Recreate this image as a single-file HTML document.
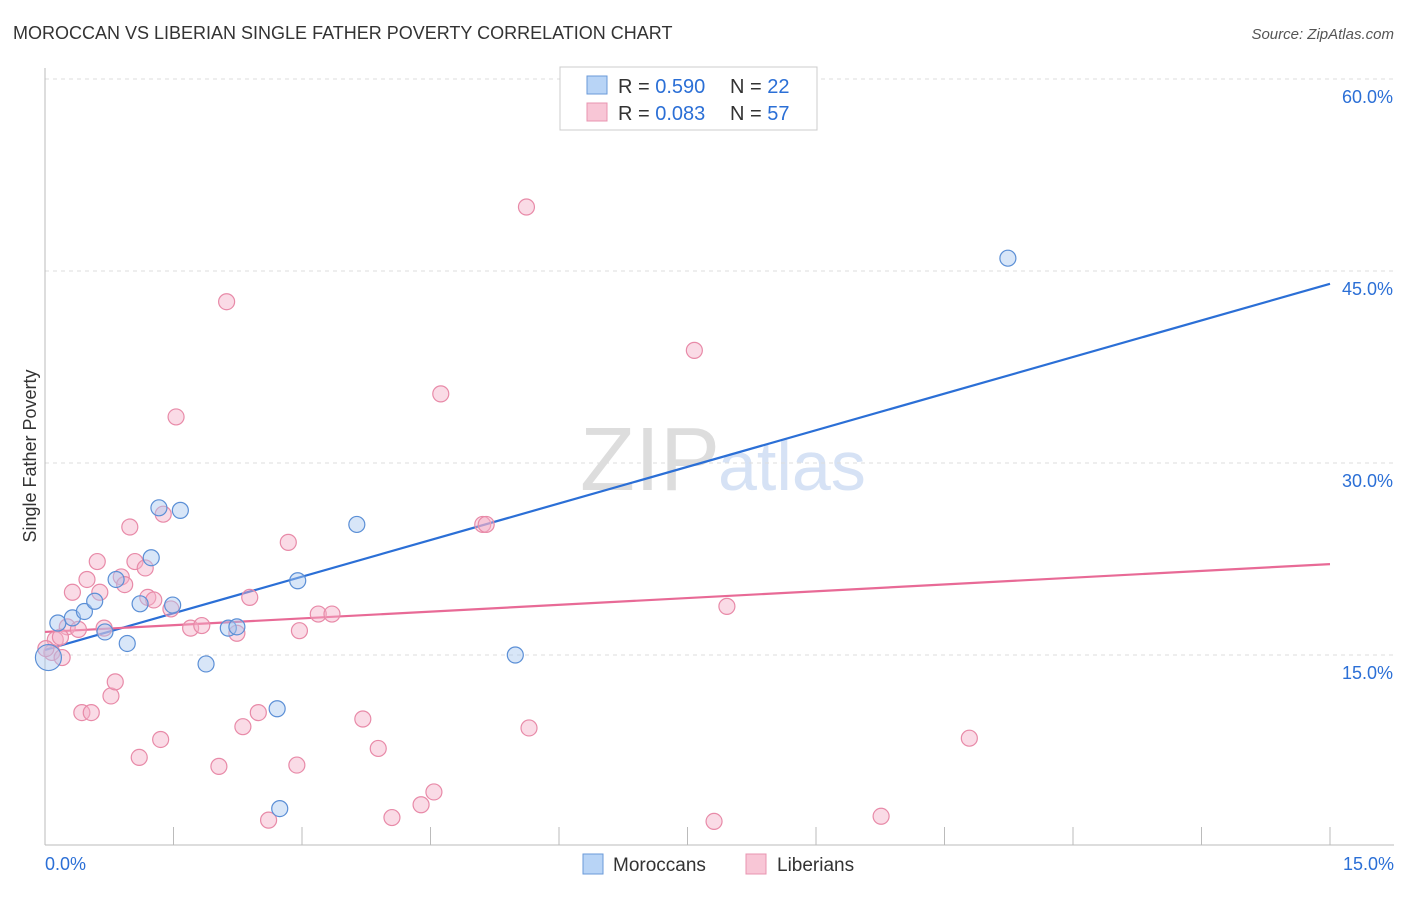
<!DOCTYPE html>
<html><head><meta charset="utf-8"><style>
body{margin:0;background:#fff;font-family:"Liberation Sans",sans-serif;}
svg text{font-family:"Liberation Sans",sans-serif;}
</style></head><body>
<svg id="c" width="1406" height="892">
<text x="13" y="39" font-size="18" fill="#333">MOROCCAN VS LIBERIAN SINGLE FATHER POVERTY CORRELATION CHART</text>
<text x="1394" y="39" font-size="15" fill="#555" font-style="italic" text-anchor="end">Source: ZipAtlas.com</text>
<text x="36" y="456" font-size="18" fill="#333" transform="rotate(-90 36 456)" text-anchor="middle">Single Father Poverty</text>
<text x="720" y="490" font-size="90" fill="#ddd" text-anchor="end" font-family="Liberation Serif">ZIP</text>
<text x="718" y="490" font-size="70" fill="#d6e2f5">atlas</text>
<g id="grid"></g><g id="axes"></g><g id="lines"></g><g id="pts"></g>
<rect x="560" y="67" width="257" height="63" fill="#fff" stroke="#ccc"/>
<rect x="587" y="76" width="20" height="18" fill="#b8d4f6" stroke="#6a9ad8"/>
<rect x="587" y="103" width="20" height="18" fill="#f8c6d6" stroke="#e894b0"/>
<text x="618" y="93" font-size="20" fill="#333">R = <tspan fill="#2b6fd6">0.590</tspan><tspan x="730">N = </tspan><tspan fill="#2b6fd6">22</tspan></text>
<text x="618" y="120" font-size="20" fill="#333">R = <tspan fill="#2b6fd6">0.083</tspan><tspan x="730">N = </tspan><tspan fill="#2b6fd6">57</tspan></text>
<rect x="583" y="854" width="20" height="20" fill="#b8d4f6" stroke="#6a9ad8"/>
<text x="613" y="871" font-size="19" fill="#333">Moroccans</text>
<rect x="746" y="854" width="20" height="20" fill="#f8c6d6" stroke="#e894b0"/>
<text x="777" y="871" font-size="19" fill="#333">Liberians</text>
</svg>
<script>
const yTicks=[15,30,45,60];
const xTickLabels=["0.0%","15.0%"];
const morX=[0.04,0.15,0.32,0.46,0.58,0.70,0.83,0.96,1.11,1.24,1.33,1.49,1.58,1.88,2.14,2.24,2.71,2.74,2.95,3.64,5.49,11.24];
const morY=[14.8,17.5,17.9,18.4,19.2,16.8,20.9,15.9,19.0,22.6,26.5,18.9,26.3,14.3,17.1,17.2,10.8,3.0,20.8,25.2,15.0,46.0];
const libX=[0.12,0.08,0.20,0.26,0.32,0.39,0.43,0.49,0.54,0.61,0.64,0.69,0.77,0.82,0.89,0.93,0.99,1.10,1.05,1.17,1.20,1.27,1.35,1.38,1.47,1.53,1.70,1.83,2.03,2.12,2.24,2.31,2.39,2.49,2.61,2.84,2.94,2.97,3.19,3.35,3.71,3.89,4.05,4.39,4.54,4.62,5.11,5.15,5.62,5.65,7.58,7.81,7.96,9.76,10.79,0.01,0.18];
const libY=[16.2,15.2,14.8,17.2,19.9,17.0,10.5,20.9,10.5,22.3,19.9,17.1,11.8,12.9,21.1,20.5,25.0,7.0,22.3,21.8,19.5,19.3,8.4,26.0,18.6,33.6,17.1,17.3,6.3,42.6,16.7,9.4,19.5,10.5,2.1,23.8,6.4,16.9,18.2,18.2,10.0,7.7,2.3,3.3,4.3,35.4,25.2,25.2,50.0,9.3,38.8,2.0,18.8,2.4,8.5,15.5,16.4];
const morTrend=[15.4,44.0];
const libTrend=[16.8,22.1];
const NS="http://www.w3.org/2000/svg";
const X=v=>45+v/15*1285, Y=v=>847-v*12.8;
function mk(p,t,a){const e=document.createElementNS(NS,t);for(const k in a)e.setAttribute(k,a[k]);document.getElementById(p).appendChild(e);return e;}
yTicks.forEach(t=>{
 const l=mk('grid','line',{x1:45,x2:1394,y1:Y(t),y2:Y(t),stroke:'#ddd','stroke-dasharray':'4,4'});
 
 
 const tx=mk('grid','text',{x:1393,y:Y(t)+24,'font-size':18,fill:'#2b6fd6','text-anchor':'end'});
 tx.textContent=t.toFixed(1)+'%';
 
 
});
let a=mk('axes','line',{x1:45,x2:45,y1:68,y2:845,stroke:'#bbb'});


a=mk('axes','line',{x1:45,x2:1394,y1:845,y2:845,stroke:'#bbb'});


for(let i=1;i<=10;i++){
 const t=mk('axes','line',{x1:X(i*1.5),x2:X(i*1.5),y1:827,y2:845,stroke:'#bbb'});
 
 
}
[[0,'start',45],[15,'end',1394]].forEach((d,i)=>{
 const t=mk('axes','text',{x:d[2],y:870,'font-size':18,fill:'#2b6fd6','text-anchor':d[1]});
 t.textContent=xTickLabels[i];
 
 
});
function pts(xs,ys,fill,stroke,name,big){
 xs.forEach((x,i)=>{
  const c=mk('pts','circle',{cx:X(x),cy:Y(ys[i]),r:(big&&i===0)?13:8,fill:fill,'fill-opacity':0.45,stroke:stroke,'stroke-width':1.2});
  
  
 });
}
pts(libX,libY,'#f4b0c8','#e88aa8','liberian-point',false);
pts(morX,morY,'#a8c8f0','#5b8fd6','moroccan-point',true);
let tl=mk('lines','line',{x1:X(0),y1:Y(morTrend[0]),x2:X(15),y2:Y(morTrend[1]),stroke:'#2b6fd6','stroke-width':2.2});


tl=mk('lines','line',{x1:X(0),y1:Y(libTrend[0]),x2:X(15),y2:Y(libTrend[1]),stroke:'#e86a96','stroke-width':2.2});


</script>
</body></html>
